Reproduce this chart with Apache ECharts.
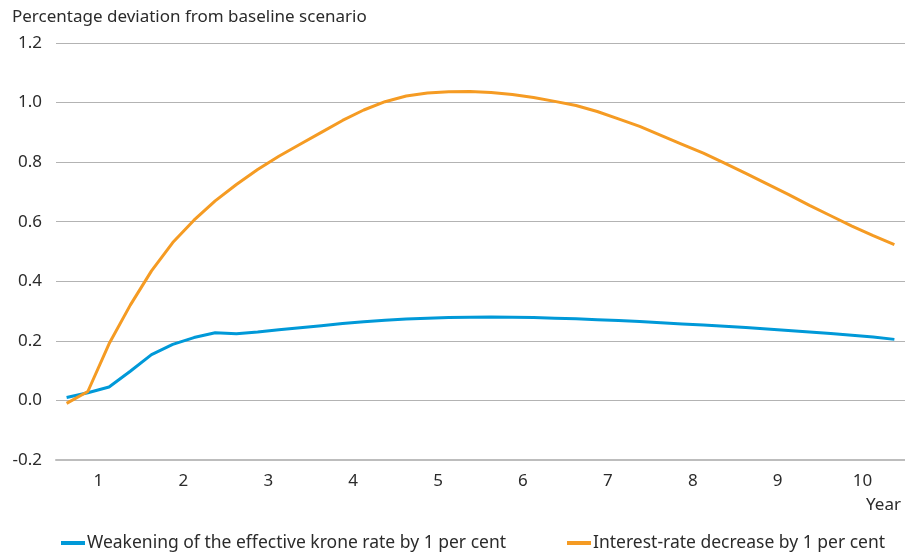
<!DOCTYPE html>
<html lang="en">

<head>
    <meta charset="UTF-8">
    <title>Krone rate and interest-rate effects</title>
    <script src="https://cdn.jsdelivr.net/npm/echarts@6/dist/echarts.min.js"></script>
    <style>
        body {
            margin: 0;
            background: #fff;
        }

        #root {
            width: 905px;
            height: 553px;
        }
    </style>
</head>

<body>

    <div id="root"></div>
    <script>

        // quarters 1..40, year labels 1..10
        var years = ['1', '2', '3', '4', '5', '6', '7', '8', '9', '10'];
        var quarters = [];
        years.forEach(function (y) {
            ['Q1', 'Q2', 'Q3', 'Q4'].forEach(function (q) { quarters.push(y + q); });
        });

        var kroneWeakening = [
            0.01, 0.026, 0.045, 0.098, 0.154, 0.188, 0.211, 0.227,
            0.224, 0.23, 0.237, 0.244, 0.251, 0.258, 0.264, 0.269,
            0.273, 0.276, 0.278, 0.279, 0.28, 0.279, 0.278, 0.276,
            0.274, 0.271, 0.268, 0.265, 0.261, 0.257, 0.253, 0.249,
            0.245, 0.24, 0.235, 0.23, 0.225, 0.219, 0.213, 0.205
        ];

        var rateDecrease = [
            -0.01, 0.03, 0.19, 0.32, 0.435, 0.53, 0.605, 0.67,
            0.725, 0.775, 0.82, 0.86, 0.90, 0.94, 0.975, 1.003,
            1.022, 1.032, 1.036, 1.037, 1.034, 1.027, 1.017, 1.004,
            0.99, 0.97, 0.945, 0.92, 0.89, 0.86, 0.83, 0.797,
            0.762, 0.727, 0.692, 0.655, 0.62, 0.585, 0.553, 0.523
        ];

        var seriesNames = [
            'Weakening of the effective krone rate by 1 per cent',
            'Interest-rate decrease by 1 per cent'
        ];

        var font = '"Noto Sans", sans-serif';
        var textColor = '#2b2b2b';

        var mychart = echarts.init(document.getElementById('root'));

        mychart.setOption({
            animation: false,
            textStyle: { fontFamily: font },
            grid: { left: 56, right: 0, top: 43, bottom: 93 },
            graphic: [{
                type: 'text',
                left: 12, top: 9,
                style: { text: 'Percentage deviation from baseline scenario', fontSize: 17, fill: textColor, fontFamily: font }
            }, {
                type: 'text',
                right: 4, top: 497,
                style: { text: 'Year', fontSize: 17, fill: textColor, fontFamily: font }
            }],
            legend: [{
                left: 56, top: 529,
                itemWidth: 24, itemHeight: 4, icon: 'rect',
                textStyle: { fontSize: 17.5, color: textColor, fontFamily: font, padding: [0, 0, 0, -3] },
                data: [seriesNames[0]]
            }, {
                left: 562, top: 529,
                itemWidth: 24, itemHeight: 4, icon: 'rect',
                textStyle: { fontSize: 17.5, color: textColor, fontFamily: font, padding: [0, 0, 0, -3] },
                data: [seriesNames[1]]
            }],
            xAxis: [{
                type: 'category',
                data: quarters,
                boundaryGap: true,
                show: false
            }, {
                type: 'category',
                data: years,
                position: 'bottom',
                boundaryGap: true,
                axisLine: { lineStyle: { color: '#bdbdbd', width: 2 } },
                axisTick: { inside: true, length: 6, lineStyle: { color: '#bdbdbd', width: 1 } },
                axisLabel: { color: textColor, fontSize: 17, margin: 13, fontFamily: font },
                splitLine: { show: false }
            }],
            yAxis: {
                type: 'value',
                min: -0.2,
                max: 1.2,
                interval: 0.2,
                axisLine: { show: false },
                axisTick: { show: false },
                axisLabel: {
                    color: textColor, fontSize: 17, margin: 14, fontFamily: font,
                    formatter: function (v) { return v.toFixed(1); }
                },
                splitLine: { lineStyle: { color: '#b3b3b3', width: 1.2 } }
            },
            series: [{
                name: seriesNames[0],
                type: 'line',
                xAxisIndex: 0,
                data: kroneWeakening,
                symbol: 'none',
                smooth: false,
                color: '#0099d8',
                lineStyle: { width: 3 },
                z: 3
            }, {
                name: seriesNames[1],
                type: 'line',
                xAxisIndex: 0,
                data: rateDecrease,
                symbol: 'none',
                smooth: false,
                color: '#f59b23',
                lineStyle: { width: 3 },
                z: 4
            }]
        });

    </script>

</body>

</html>
